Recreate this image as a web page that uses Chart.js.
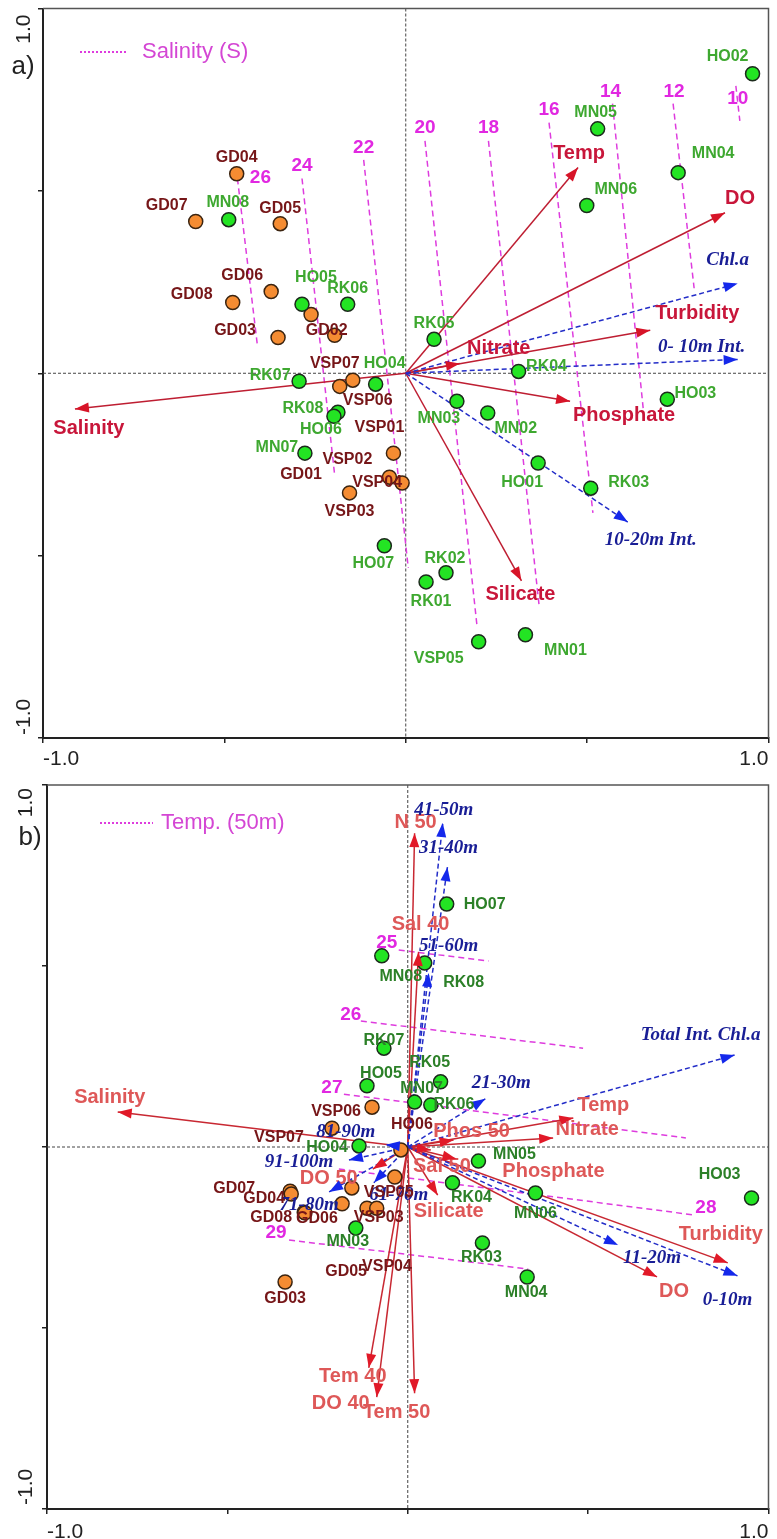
<!DOCTYPE html>
<html>
<head>
<meta charset="utf-8">
<script src="https://cdn.jsdelivr.net/npm/chart.js@4.4.1/dist/chart.umd.min.js"></script>
<style>
  body { margin: 0; background: #fff; }
  canvas { display: block; }
</style>
</head>
<body>
<canvas id="chartA" width="777" height="770"></canvas>
<canvas id="chartB" width="777" height="769"></canvas>
<script>
// ---------------- panel a) data ----------------
const greenA  = ['HO02','MN05','MN04','MN06','RK05','RK04','MN08','HO05','RK06','RK07','HO04','RK08','HO06','MN07','HO07','MN03','MN02','HO01','RK03','HO03','RK02','RK01','VSP05','MN01'];
const greenAX = [0.956,0.529,0.751,0.499,0.078,0.311,-0.488,-0.286,-0.160,-0.294,-0.083,-0.187,-0.198,-0.278,-0.059,0.141,0.226,0.365,0.510,0.721,0.111,0.056,0.201,0.330];
const greenAY = [0.821,0.670,0.550,0.460,0.093,0.005,0.421,0.189,0.189,-0.022,-0.030,-0.107,-0.118,-0.219,-0.473,-0.077,-0.109,-0.246,-0.315,-0.071,-0.547,-0.572,-0.736,-0.717];

const orangeA  = ['GD04','GD07','GD05','GD06','GD08','GD01','GD03','GD02','VSP07','VSP06','VSP01','VSP02','VSP04','VSP03'];
const orangeAX = [-0.466,-0.579,-0.346,-0.371,-0.477,-0.261,-0.352,-0.196,-0.146,-0.182,-0.034,-0.045,-0.010,-0.155];
const orangeAY = [0.547,0.416,0.410,0.224,0.194,0.161,0.098,0.104,-0.019,-0.036,-0.219,-0.285,-0.301,-0.328];

const envA  = ['Temp','DO','Turbidity','Nitrate','Phosphate','Silicate','Salinity'];
const envAX = [0.475,0.880,0.674,0.149,0.453,0.319,-0.912];
const envAY = [0.564,0.440,0.118,0.027,-0.077,-0.569,-0.098];

const chlA  = ['Chl.a','0- 10m Int.','10-20m Int.'];
const chlAX = [0.915,0.915,0.612];
const chlAY = [0.246,0.038,-0.408];

const salA   = ['26','24','22','20','18','16','14','12','10'];
const salAX1 = [-0.464,-0.286,-0.116,0.053,0.228,0.395,0.570,0.737,0.910];
const salAY1 = [0.534,0.534,0.585,0.637,0.637,0.687,0.739,0.739,0.788];
const salAX2 = [-0.409,-0.196,0.007,0.196,0.368,0.516,0.655,0.795,0.921];
const salAY2 = [0.077,-0.279,-0.534,-0.689,-0.640,-0.383,-0.101,0.233,0.692];

// ---------------- panel b) data ----------------
const greenB  = ['HO07','MN08','RK08','RK07','HO05','RK05','MN07','RK06','HO04','MN05','RK04','MN06','HO03','RK03','MN04','MN03'];
const greenBX = [0.108,-0.072,0.047,-0.066,-0.113,0.091,0.019,0.064,-0.135,0.196,0.124,0.354,0.953,0.207,0.331,-0.144];
const greenBY = [0.671,0.528,0.508,0.273,0.169,0.180,0.124,0.116,0.003,-0.039,-0.099,-0.127,-0.141,-0.265,-0.359,-0.224];

const orangeB  = ['HO06','VSP06','VSP07','VSP05','VSP01','GD05','VSP04','VSP03','GD07','GD04','GD08','GD06','GD03'];
const orangeBX = [-0.019,-0.099,-0.210,-0.036,-0.155,-0.182,-0.113,-0.086,-0.326,-0.323,-0.287,-0.285,-0.340];
const orangeBY = [-0.008,0.110,0.052,-0.083,-0.113,-0.157,-0.169,-0.169,-0.122,-0.130,-0.180,-0.182,-0.373];

const envB  = ['N 50','Sal 40','Temp','Nitrate','Phos 50','Sal 50','Phosphate','Silicate','Turbidity','DO','Tem 40','DO 40','Tem 50','Salinity','DO 50'];
const envBX = [0.019,0.030,0.459,0.403,0.127,0.064,0.135,0.083,0.887,0.691,-0.108,-0.086,0.019,-0.804,-0.097];
const envBY = [0.867,0.539,0.080,0.025,0.019,-0.008,-0.033,-0.133,-0.320,-0.359,-0.610,-0.691,-0.680,0.097,-0.061];

const chlB  = ['41-50m','31-40m','51-60m','21-30m','Total Int. Chl.a','11-20m','0-10m','81-90m','91-100m','71-80m','61-70m'];
const chlBX = [0.097,0.110,0.058,0.215,0.906,0.583,0.914,-0.061,-0.163,-0.218,-0.094];
const chlBY = [0.895,0.773,0.481,0.133,0.254,-0.271,-0.356,0.006,-0.036,-0.124,-0.099];

const tempB   = ['25','26','27','28','29'];
const tempBX1 = [-0.025,-0.130,-0.177,-0.191,-0.329];
const tempBY1 = [0.544,0.348,0.146,-0.061,-0.257];
const tempBX2 = [0.224,0.486,0.771,0.796,0.334];
const tempBY2 = [0.514,0.273,0.025,-0.188,-0.337];

const axisTicks = [-1, -0.5, 0, 0.5, 1];

// ---------------- layout (pixel offsets for text) ----------------
const siteOffA = {
  HO02:[-25,-17], MN05:[-2,-16], MN04:[35,-19], MN06:[29,-16], RK05:[0,-16], RK04:[28,-5], MN08:[-1,-17],
  HO05:[14,-27], RK06:[0,-16], RK07:[-29,-6], HO04:[9,-21], RK08:[-35,-4], HO06:[-13,13], MN07:[-28,-6],
  HO07:[-11,18], MN03:[-18,17], MN02:[28,16], HO01:[-16,20], RK03:[38,-6], HO03:[28,-6], RK02:[-1,-14],
  RK01:[5,20], VSP05:[-40,17], MN01:[40,16],
  GD04:[0,-16], GD07:[-29,-16], GD05:[0,-15], GD06:[-29,-16], GD08:[-41,-8], GD01:[-10,160], GD03:[-43,-7],
  GD02:[-8,-5], VSP07:[-18,-17], VSP06:[28,14], VSP01:[-14,-26], VSP02:[-42,-18], VSP04:[-25,0], VSP03:[0,19]
};
const envOffA = [[1,-14],[15,-14],[47,-17],[39,-15],[54,14],[-1,14],[14,19]];
const chlOffA = [[-10,-23],[-36,-12],[23,18]];
const salOffA = [[23,-1],[0,-13],[0,-12],[0,-13],[0,-13],[0,-13],[-2,-12],[1,-12],[2,13]];

const siteOffB = {
  HO07:[38,0], MN08:[19,21], RK08:[39,19], RK07:[0,-8], HO05:[14,-12], RK05:[-11,-19], MN07:[7,-14],
  RK06:[23,0], HO04:[-32,2], MN05:[36,-7], RK04:[19,15], MN06:[0,21], HO03:[-32,-23], RK03:[-1,15],
  MN04:[-1,16], MN03:[-8,14],
  HO06:[11,-25], VSP06:[-36,4], VSP07:[-53,9], VSP05:[-6,16], VSP01:null, GD05:[4,68], VSP04:[20,58],
  VSP03:[2,9], GD07:[-56,-3], GD04:[-27,5], GD08:[-33,5], GD06:[12,6], GD03:[0,17]
};
const envOffB = [[1,-11],[2,-27],[30,-13],[34,-8],[18,-9],[11,17],[97,13],[11,16],[-7,-28],[17,15],[-16,9],[-36,6],[-18,19],[-8,-14],[-44,9]];
const chlOffB = [[1,-13],[1,-19],[20,-27],[16,-16],[-34,-20],[34,13],[-10,24],[-40,-13],[-50,2],[-20,13],[25,12]];
const tempOffB = [['start',-12,-7],['start',-10,-6],['start',-12,-6],['end',11,-7],['start',-13,-7]];

const SANS = '"Liberation Sans", Arial, sans-serif';
const SERIF = '"Liberation Serif", "Times New Roman", serif';
const MAGENTA = 'rgb(222,60,222)';
const BLUE = 'rgb(35,45,200)';

function pts(xs, ys) {
  return xs.map((x, i) => ({ x: x, y: ys[i] }));
}

function buildDatasets(p) {
  const ds = [];
  p.iso.forEach((v, i) => {
    ds.push({ data: [{ x: p.isoX1[i], y: p.isoY1[i] }, { x: p.isoX2[i], y: p.isoY2[i] }],
      showLine: true, borderColor: MAGENTA, borderWidth: 1.5, borderDash: [6, 4], pointRadius: 0, order: 5 });
  });
  p.env.forEach((n, i) => {
    ds.push({ data: [{ x: 0, y: 0 }, { x: p.envX[i], y: p.envY[i] }],
      showLine: true, borderColor: p.redLine, borderWidth: 1.5, pointRadius: 0, order: 4 });
  });
  p.chl.forEach((n, i) => {
    ds.push({ data: [{ x: 0, y: 0 }, { x: p.chlX[i], y: p.chlY[i] }],
      showLine: true, borderColor: BLUE, borderWidth: 1.5, borderDash: [5, 3], pointRadius: 0, order: 3 });
  });
  ds.push({ data: pts(p.orangeX, p.orangeY), pointRadius: 7, pointBackgroundColor: 'rgb(245,140,50)',
    pointBorderColor: '#3b2410', pointBorderWidth: 1.5, order: 2 });
  ds.push({ data: pts(p.greenX, p.greenY), pointRadius: 7, pointBackgroundColor: 'rgb(35,228,35)',
    pointBorderColor: '#1c2a1c', pointBorderWidth: 1.5, order: 1 });
  return ds;
}

function arrowHead(ctx, x0, y0, x1, y1, color) {
  const a = Math.atan2(y1 - y0, x1 - x0);
  ctx.save();
  ctx.translate(x1, y1);
  ctx.rotate(a);
  ctx.fillStyle = color;
  ctx.beginPath();
  ctx.moveTo(0, 0);
  ctx.lineTo(-14, -5);
  ctx.lineTo(-14, 5);
  ctx.closePath();
  ctx.fill();
  ctx.restore();
}

function text(ctx, s, x, y, font, color, align) {
  ctx.font = font;
  ctx.fillStyle = color;
  ctx.textAlign = align || 'center';
  ctx.textBaseline = 'middle';
  ctx.fillText(s, x, y);
}

function decor(p) {
  return {
    id: 'decor' + p.letter,
    beforeDatasetsDraw(chart) {
      const ctx = chart.ctx, a = chart.chartArea;
      const x0 = chart.scales.x.getPixelForValue(0), y0 = chart.scales.y.getPixelForValue(0);
      ctx.save();
      ctx.strokeStyle = '#444';
      ctx.lineWidth = 1;
      ctx.setLineDash([3, 2]);
      ctx.beginPath();
      ctx.moveTo(a.left, y0); ctx.lineTo(a.right, y0);
      ctx.moveTo(x0, a.top); ctx.lineTo(x0, a.bottom);
      ctx.stroke();
      ctx.restore();
    },
    afterDatasetsDraw(chart) {
      const ctx = chart.ctx, sx = chart.scales.x, sy = chart.scales.y;
      const ox = sx.getPixelForValue(0), oy = sy.getPixelForValue(0);
      ctx.save();
      // arrow heads and labels
      p.env.forEach((n, i) => {
        const tx = sx.getPixelForValue(p.envX[i]), ty = sy.getPixelForValue(p.envY[i]);
        arrowHead(ctx, ox, oy, tx, ty, p.redHead);
        text(ctx, n, tx + p.envOff[i][0], ty + p.envOff[i][1], 'bold 20px ' + SANS, p.redText);
      });
      p.chl.forEach((n, i) => {
        const tx = sx.getPixelForValue(p.chlX[i]), ty = sy.getPixelForValue(p.chlY[i]);
        arrowHead(ctx, ox, oy, tx, ty, 'rgb(20,40,235)');
        text(ctx, n, tx + p.chlOff[i][0], ty + p.chlOff[i][1], 'italic bold 19px ' + SERIF, 'rgb(25,30,150)');
      });
      // isoline labels
      p.iso.forEach((n, i) => {
        const o = p.isoOff[i];
        let bx, by, dx, dy;
        if (o.length === 3) {
          const useEnd = o[0] === 'end';
          bx = useEnd ? p.isoX2[i] : p.isoX1[i];
          by = useEnd ? p.isoY2[i] : p.isoY1[i];
          dx = o[1]; dy = o[2];
        } else {
          bx = p.isoX1[i]; by = p.isoY1[i]; dx = o[0]; dy = o[1];
        }
        text(ctx, n, sx.getPixelForValue(bx) + dx, sy.getPixelForValue(by) + dy, 'bold 19px ' + SANS, 'rgb(225,40,225)');
      });
      // site labels
      const siteLabel = (names, xs, ys, color) => {
        names.forEach((n, i) => {
          const o = p.siteOff[n];
          if (!o) return;
          text(ctx, n, sx.getPixelForValue(xs[i]) + o[0], sy.getPixelForValue(ys[i]) + o[1], 'bold 16px ' + SANS, color);
        });
      };
      siteLabel(p.orange, p.orangeX, p.orangeY, 'rgb(118,22,24)');
      siteLabel(p.green, p.greenX, p.greenY, p.greenText);
      // legend
      ctx.strokeStyle = MAGENTA;
      ctx.lineWidth = 2;
      ctx.setLineDash([2, 2]);
      ctx.beginPath();
      ctx.moveTo(p.legend[0], p.legend[2]);
      ctx.lineTo(p.legend[1], p.legend[2]);
      ctx.stroke();
      ctx.setLineDash([]);
      text(ctx, p.legendText, p.legend[3], p.legend[2], '22px ' + SANS, 'rgb(212,70,212)', 'left');
      ctx.restore();
    },
    afterDraw(chart) {
      const ctx = chart.ctx, a = chart.chartArea;
      ctx.save();
      ctx.strokeStyle = '#555';
      ctx.lineWidth = 1.5;
      ctx.beginPath();
      ctx.moveTo(a.left, a.top); ctx.lineTo(a.right, a.top); ctx.lineTo(a.right, a.bottom);
      ctx.stroke();
      // rotated y tick labels (only the end values are labelled)
      ctx.font = '21px ' + SANS;
      ctx.fillStyle = '#222';
      ctx.textBaseline = 'middle';
      ctx.save();
      ctx.translate(p.yLabX, a.top + p.yLabPad[0]);
      ctx.rotate(-Math.PI / 2);
      ctx.textAlign = 'right';
      ctx.fillText(axisTicks[4].toFixed(1), 0, 0);
      ctx.restore();
      ctx.save();
      ctx.translate(p.yLabX, a.bottom - p.yLabPad[1]);
      ctx.rotate(-Math.PI / 2);
      ctx.textAlign = 'left';
      ctx.fillText(axisTicks[0].toFixed(1), 0, 0);
      ctx.restore();
      text(ctx, p.letter + ')', p.letterPos[0], p.letterPos[1], '26px ' + SANS, '#222');
      ctx.restore();
    }
  };
}

function makeChart(id, p) {
  return new Chart(document.getElementById(id), {
    type: 'scatter',
    data: { datasets: buildDatasets(p) },
    options: {
      responsive: false,
      animation: false,
      events: [],
      layout: { padding: { top: p.padTop, right: p.padRight, left: 0, bottom: 0 } },
      plugins: { legend: { display: false }, tooltip: { enabled: false } },
      scales: {
        x: {
          type: 'linear', min: -1, max: 1,
          afterBuildTicks: s => { s.ticks = axisTicks.map(v => ({ value: v })); },
          grid: { drawOnChartArea: false, drawTicks: true, tickLength: 5, color: '#222', lineWidth: 1.5 },
          border: { color: '#222', width: 2 },
          ticks: {
            align: 'inner', padding: p.xPad, color: '#222', font: { family: SANS, size: 21 },
            callback: v => (Math.abs(v) === 1 ? v.toFixed(1) : '')
          },
          afterFit: s => { s.height = p.bottomH; }
        },
        y: {
          type: 'linear', min: -1, max: 1,
          afterBuildTicks: s => { s.ticks = axisTicks.map(v => ({ value: v })); },
          grid: { drawOnChartArea: false, drawTicks: true, tickLength: 5, color: '#222', lineWidth: 1.5 },
          border: { color: '#222', width: 2 },
          ticks: { display: false },
          afterFit: s => { s.width = p.leftW; }
        }
      }
    },
    plugins: [decor(p)]
  });
}

makeChart('chartA', {
  letter: 'a', letterPos: [23, 67], legend: [80, 128, 52, 142], legendText: 'Salinity (S)',
  padTop: 7, padRight: 3, leftW: 43, bottomH: 32, xPad: 4, yLabX: 24, yLabPad: [6, 3],
  green: greenA, greenX: greenAX, greenY: greenAY, greenText: 'rgb(62,168,48)',
  orange: orangeA, orangeX: orangeAX, orangeY: orangeAY,
  env: envA, envX: envAX, envY: envAY, envOff: envOffA,
  chl: chlA, chlX: chlAX, chlY: chlAY, chlOff: chlOffA,
  iso: salA, isoX1: salAX1, isoY1: salAY1, isoX2: salAX2, isoY2: salAY2, isoOff: salOffA,
  siteOff: siteOffA,
  redLine: 'rgb(190,30,50)', redHead: 'rgb(215,20,40)', redText: 'rgb(200,22,58)'
});

makeChart('chartB', {
  letter: 'b', letterPos: [30, 68], legend: [100, 153, 53, 161], legendText: 'Temp. (50m)',
  padTop: 15, padRight: 6, leftW: 47, bottomH: 30, xPad: 6, yLabX: 26, yLabPad: [3, 4],
  green: greenB, greenX: greenBX, greenY: greenBY, greenText: 'rgb(44,128,40)',
  orange: orangeB, orangeX: orangeBX, orangeY: orangeBY,
  env: envB, envX: envBX, envY: envBY, envOff: envOffB,
  chl: chlB, chlX: chlBX, chlY: chlBY, chlOff: chlOffB,
  iso: tempB, isoX1: tempBX1, isoY1: tempBY1, isoX2: tempBX2, isoY2: tempBY2, isoOff: tempOffB,
  siteOff: siteOffB,
  redLine: 'rgb(200,40,50)', redHead: 'rgb(225,25,40)', redText: 'rgb(222,88,88)'
});
</script>
</body>
</html>
